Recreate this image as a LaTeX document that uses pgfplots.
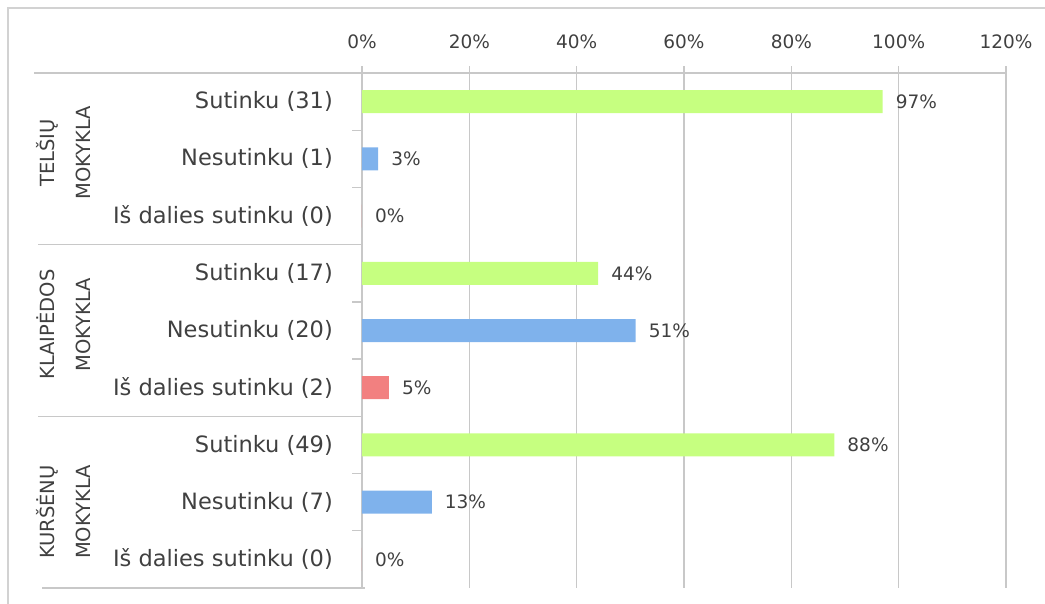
\documentclass[border=0pt]{standalone}
\usepackage{pgfplots}
\pgfplotsset{compat=1.18}
\usepackage{fontspec}
\setmainfont{DejaVu Sans}
\definecolor{gridc}{RGB}{200,200,200}
\definecolor{framec}{RGB}{210,210,210}
\definecolor{txt}{RGB}{64,64,64}
\definecolor{cgreen}{RGB}{198,255,128}
\definecolor{cblue}{RGB}{127,178,236}
\definecolor{cred}{RGB}{242,128,128}
\begin{document}
\begin{tikzpicture}[x=1pt,y=1pt]
\useasboundingbox (0,0) rectangle (1045,603);
\draw[framec, line width=1.6pt] (8,-2) -- (8,595) -- (1047,595);
\begin{axis}[
  at={(362pt,15pt)}, anchor=south west,
  scale only axis, width=644pt, height=515pt,
  xmin=0, xmax=120, ymin=-0.5, ymax=8.5, y dir=reverse,
  axis x line*=top, axis y line*=left,
  axis line style={draw=gridc, line width=1.3pt},
  xmajorgrids, grid style={draw=gridc, line width=1.3pt},
  xtick={0,20,...,120},
  xticklabel={\pgfmathprintnumber{\tick}\%},
  /pgf/number format/assume math mode=true,
  tick align=outside, major tick length=7pt,
  x tick style={draw=gridc, line width=1.3pt},
  xticklabel style={font=\fontsize{18.5}{22}\selectfont, text=txt, inner sep=0pt, anchor=base, yshift=18pt},
  ytick={0,...,8},
  yticklabels={Sutinku (31),Nesutinku (1),Iš dalies sutinku (0),Sutinku (17),Nesutinku (20),Iš dalies sutinku (2),Sutinku (49),Nesutinku (7),Iš dalies sutinku (0)},
  y tick style={draw=none},
  yticklabel style={font=\fontsize{22.5}{26}\selectfont, text=txt, inner sep=0pt, anchor=east, xshift=-22pt},
  xbar, bar width=23pt, bar shift=0pt,
  nodes near coords={\pgfmathprintnumber{\pgfplotspointmeta}\%},
  every node near coord/.append style={font=\fontsize{18.5}{22}\selectfont, text=txt, inner sep=0pt, anchor=west, xshift=13pt},
  clip=false,
]
\addplot[fill=cgreen, draw=none] coordinates {(97,0) (44,3) (88,6)};
\addplot[fill=cblue, draw=none] coordinates {(3,1) (51,4) (13,7)};
\addplot[fill=cred, draw=none] coordinates {(0,2) (5,5) (0,8)};
% frame lines of the category area
\draw[gridc, line width=1.3pt] (axis cs:0,-0.5) -- ++(-328pt,0pt);
\draw[gridc, line width=1.3pt] (axis cs:0,2.5) -- ++(-324pt,0pt);
\draw[gridc, line width=1.3pt] (axis cs:0,5.5) -- ++(-324pt,0pt);
\draw[gridc, line width=1.3pt] (axis cs:0,8.5) ++(3pt,0pt) -- ++(-323pt,0pt);
\draw[gridc, line width=1.3pt] (axis cs:0,0.5) -- ++(-10pt,0pt);
\draw[gridc, line width=1.3pt] (axis cs:0,1.5) -- ++(-10pt,0pt);
\draw[gridc, line width=1.3pt] (axis cs:0,3.5) -- ++(-10pt,0pt);
\draw[gridc, line width=1.3pt] (axis cs:0,4.5) -- ++(-10pt,0pt);
\draw[gridc, line width=1.3pt] (axis cs:0,6.5) -- ++(-10pt,0pt);
\draw[gridc, line width=1.3pt] (axis cs:0,7.5) -- ++(-10pt,0pt);
\node[rotate=90, align=center, text=txt, font=\fontsize{19.5}{36}\selectfont, inner sep=0pt] at ([xshift=-298pt,yshift=6pt]axis cs:0,1) {TELŠIŲ\\MOKYKLA};
\node[rotate=90, align=center, text=txt, font=\fontsize{19.5}{36}\selectfont, inner sep=0pt] at ([xshift=-298pt,yshift=6pt]axis cs:0,4) {KLAIPĖDOS\\MOKYKLA};
\node[rotate=90, align=center, text=txt, font=\fontsize{19.5}{36}\selectfont, inner sep=0pt] at ([xshift=-298pt,yshift=-10pt]axis cs:0,7) {KURŠĖNŲ\\MOKYKLA};
\end{axis}
\end{tikzpicture}
\end{document}
